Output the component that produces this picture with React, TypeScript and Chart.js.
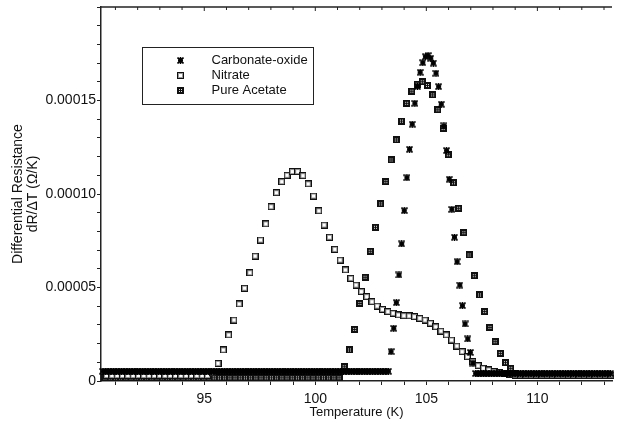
import React, { useEffect, useRef } from 'react';
import { Chart, registerables } from 'chart.js';

Chart.register(...registerables);

// ---- data (values in µΩ/K, i.e. ×1e-6) ----
const seriesNames = ['Carbonate-oxide', 'Nitrate', 'Pure Acetate'];
const xTickLabels = [95, 100, 105, 110];
const yTickLabels = ['0', '0.00005', '0.00010', '0.00015'];

// Carbonate-oxide: sampling grid start/step (K)
const carbonateStart = 90.44;
const carbonateStep = 0.119;
const carbonateValues = [
  5.2, 5.2, 5.2, 5.2, 5.2, 5.2, 5.2, 5.2, 5.2, 5.2, 5.2, 5.2, 5.2, 5.2, 5.2, 5.2, 5.2, 5.2, 5.2, 5.2,
  5.2, 5.2, 5.2, 5.2, 5.2, 5.2, 5.2, 5.2, 5.2, 5.2, 5.2, 5.2, 5.2, 5.2, 5.2, 5.2, 5.2, 5.2, 5.2, 5.2,
  5.2, 5.2, 5.2, 5.2, 5.2, 5.2, 5.2, 5.2, 5.2, 5.2, 5.2, 5.2, 5.2, 5.2, 5.2, 5.2, 5.2, 5.2, 5.2, 5.2,
  5.2, 5.2, 5.2, 5.2, 5.2, 5.2, 5.2, 5.2, 5.2, 5.2, 5.2, 5.2, 5.2, 5.2, 5.2, 5.2, 5.2, 5.2, 5.2, 5.2,
  5.2, 5.2, 5.2, 5.2, 5.2, 5.2, 5.2, 5.2, 5.2, 5.2, 5.2, 5.2, 5.2, 5.2, 5.2, 5.2, 5.2, 5.2, 5.2, 5.2,
  5.2, 5.2, 5.2, 5.2, 5.2, 5.2, 5.2, 5.2, 5.2,
  15.7, 28.2, 41.9, 56.7, 73.3, 91.1, 108.7, 123.9, 137.3, 148.5, 157.4, 165.1, 170.2, 173.4, 174.0, 172.6,
  170.0, 164.6, 157.4, 148.0, 136.4, 123.2, 107.9, 91.8, 76.9, 63.8, 51.3, 40.3, 30.5, 22.5, 15.3, 9.5,
  4.0, 4.0, 4.0, 4.0, 4.0, 4.0, 4.0, 4.0, 4.0, 4.0, 4.0, 4.0, 4.0, 4.0, 4.0, 4.0, 4.0, 4.0, 4.0, 4.0,
  4.0, 4.0, 4.0, 4.0, 4.0, 4.0, 4.0, 4.0, 4.0, 4.0, 4.0, 4.0, 4.0, 4.0, 4.0, 4.0, 4.0, 4.0, 4.0, 4.0,
  4.0, 4.0, 4.0, 4.0, 4.0, 4.0, 4.0, 4.0, 4.0, 4.0, 4.0, 4.0,
];

// Nitrate
const nitrateStart = 90.6;
const nitrateStep = 0.239;
const nitrateValues = [
  3.0, 3.0, 3.0, 3.0, 3.0, 3.0, 3.0, 3.0, 3.0, 3.0, 3.0, 3.0, 3.0, 3.0, 3.0, 3.0, 3.0, 3.0, 3.0, 3.0, 4.5,
  9.4, 16.6, 24.6, 32.6, 41.2, 49.6, 57.9, 66.8, 75.4, 84.0,
  93.2, 100.7, 106.6, 110.0, 112.0, 112.0, 109.8, 105.4, 98.9, 91.0,
  83.4, 76.9, 70.4, 64.7, 59.4, 54.9, 51.3, 47.8, 45.1, 42.4,
  40.1, 38.3, 37.1, 36.2, 35.3, 34.9, 34.8, 34.4, 33.5, 32.6,
  30.9, 29.0, 26.7, 24.6, 21.9, 18.7, 15.7, 13.0, 10.3, 8.2,
  6.8, 5.9, 5.0, 4.4, 4.1, 3.7,
  3.2, 3.2, 3.2, 3.2, 3.2, 3.2, 3.2, 3.2, 3.2, 3.2, 3.2, 3.2, 3.2, 3.2, 3.2, 3.2, 3.2, 3.2, 3.2,
];

// Pure Acetate
const acetateStart = 90.53;
const acetateStep = 0.2342;
const acetateValues = [
  1.7, 1.7, 1.7, 1.7, 1.7, 1.7, 1.7, 1.7, 1.7, 1.7, 1.7, 1.7, 1.7, 1.7, 1.7, 1.7, 1.7, 1.7, 1.7, 1.7,
  1.7, 1.7, 1.7, 1.7, 1.7, 1.7, 1.7, 1.7, 1.7, 1.7, 1.7, 1.7, 1.7, 1.7, 1.7, 1.7, 1.7, 1.7, 1.7, 1.7,
  1.7, 1.7, 1.7, 1.7, 1.7, 1.7,
  7.6, 16.6, 27.6, 41.5, 55.5, 69.4, 82.2, 94.7, 106.6, 118.2, 128.9, 139.0, 148.5, 155.0, 158.7, 160.0, 158.0,
  153.0, 145.0, 135.0, 121.0, 106.0, 92.4, 79.3, 67.4, 56.3, 46.0, 37.1, 28.7, 21.0, 14.8, 9.8, 6.8, 4.1,
  3.0, 3.0, 3.0, 3.0, 3.0, 3.0, 3.0, 3.0, 3.0, 3.0, 3.0, 3.0, 3.0, 3.0, 3.0, 3.0, 3.0, 3.0,
];

const X_MIN = 90.35;
const X_MAX = 113.36;
const Y_MAX = 0.0002;

const toPoints = (start: number, step: number, vals: number[]) =>
  vals.map((v, i) => ({ x: +(start + i * step).toFixed(3), y: v * 1e-6 }));

function makeMarker(kind: string): HTMLCanvasElement {
  const c = document.createElement('canvas');
  const ctx = c.getContext('2d')!;
  if (kind === 'star') {
    c.width = 7; c.height = 7;
    ctx.strokeStyle = '#000';
    ctx.lineWidth = 1.6;
    ctx.beginPath();
    ctx.moveTo(0.5, 0.5); ctx.lineTo(6.5, 6.5);
    ctx.moveTo(6.5, 0.5); ctx.lineTo(0.5, 6.5);
    ctx.moveTo(3.5, 0); ctx.lineTo(3.5, 7);
    ctx.moveTo(1, 3.5); ctx.lineTo(6, 3.5);
    ctx.stroke();
  } else if (kind === 'open') {
    c.width = 7; c.height = 7;
    ctx.fillStyle = '#111';
    ctx.fillRect(0, 0, 7, 7);
    ctx.fillStyle = '#9a9a9a';
    ctx.fillRect(1, 1, 5, 5);
    ctx.fillStyle = '#fff';
    ctx.fillRect(2, 2, 3, 3);
  } else {
    c.width = 7; c.height = 7;
    ctx.fillStyle = '#111';
    ctx.fillRect(0, 0, 7, 7);
    ctx.fillStyle = '#e0e0e0';
    ctx.fillRect(2, 2, 1, 1);
    ctx.fillRect(4, 2, 1, 1);
    ctx.fillRect(2, 4, 1, 1);
    ctx.fillRect(4, 4, 1, 1);
  }
  return c;
}

const FONT = '"Liberation Sans", Arial, sans-serif';

export default function App() {
  const canvasRef = useRef<HTMLCanvasElement | null>(null);

  useEffect(() => {
    if (!canvasRef.current) return;
    const markers = [makeMarker('star'), makeMarker('open'), makeMarker('checker')];

    const framePlugin = {
      id: 'frameLegend',
      afterDraw(chart: any) {
        const { ctx, chartArea, scales } = chart;
        const xs = scales.x;
        ctx.save();
        // top frame line with inward ticks
        ctx.strokeStyle = '#222';
        ctx.lineWidth = 1.5;
        ctx.beginPath();
        ctx.moveTo(chartArea.left, chartArea.top);
        ctx.lineTo(chartArea.right, chartArea.top);
        ctx.stroke();
        ctx.lineWidth = 1;
        for (const t of xs.ticks) {
          const px = xs.getPixelForValue(t.value);
          const len = t.value % 5 === 0 ? 4 : 3;
          ctx.beginPath();
          ctx.moveTo(px, chartArea.top);
          ctx.lineTo(px, chartArea.top + len);
          ctx.stroke();
        }
        // legend box
        const lx = Math.round(chartArea.left + 41) + 0.5;
        const ly = Math.round(chartArea.top + 40) + 0.5;
        ctx.strokeStyle = '#222';
        ctx.lineWidth = 1;
        ctx.strokeRect(lx, ly, 171, 57);
        ctx.font = '13px ' + FONT;
        ctx.fillStyle = '#111';
        ctx.textBaseline = 'middle';
        ctx.textAlign = 'left';
        seriesNames.forEach((name, i) => {
          const cy = ly + 13 + i * 15;
          const m = markers[i];
          ctx.drawImage(m, Math.round(lx + 38 - m.width / 2), Math.round(cy - m.height / 2));
          ctx.fillText(name, lx + 69, cy);
        });
        ctx.restore();
      },
    };

    const chart = new Chart(canvasRef.current, {
      type: 'scatter',
      data: {
        datasets: [
          {
            label: seriesNames[0],
            data: toPoints(carbonateStart, carbonateStep, carbonateValues),
            pointStyle: markers[0],
            pointRadius: 3.5,
            clip: false,
          },
          {
            label: seriesNames[1],
            data: toPoints(nitrateStart, nitrateStep, nitrateValues),
            pointStyle: markers[1],
            pointRadius: 3.5,
            clip: false,
          },
          {
            label: seriesNames[2],
            data: toPoints(acetateStart, acetateStep, acetateValues),
            pointStyle: markers[2],
            pointRadius: 3.5,
            clip: false,
          },
        ] as any,
      },
      options: {
        animation: false,
        responsive: true,
        maintainAspectRatio: false,
        layout: { padding: { top: 7, right: 0, left: 0, bottom: 0 } },
        plugins: { legend: { display: false }, tooltip: { enabled: false } },
        scales: {
          x: {
            type: 'linear',
            min: X_MIN,
            max: X_MAX,
            afterFit: (s: any) => {
              s.height = 50;
              s.paddingLeft = 0;
              s.paddingRight = 0;
            },
            border: { display: true, color: '#222', width: 1.5 },
            grid: { drawOnChartArea: false, drawTicks: true, tickLength: 4, tickColor: '#222', tickWidth: 1 },
            ticks: {
              stepSize: 1,
              includeBounds: false,
              autoSkip: false,
              maxRotation: 0,
              padding: 6,
              color: '#111',
              font: { family: FONT, size: 14 },
              callback: (v: any) => (xTickLabels.includes(Math.round(v * 1000) / 1000) ? String(v) : ''),
            },
            title: {
              display: true,
              text: 'Temperature (K)',
              color: '#111',
              font: { family: FONT, size: 13 },
              padding: { top: 0, bottom: 11 },
            },
          },
          y: {
            type: 'linear',
            min: 0,
            max: Y_MAX,
            afterFit: (s: any) => {
              s.width = 101;
              s.paddingTop = 0;
              s.paddingBottom = 0;
            },
            border: { display: true, color: '#222', width: 1.5 },
            grid: { drawOnChartArea: false, drawTicks: true, tickLength: 4, tickColor: '#222', tickWidth: 1 },
            ticks: {
              stepSize: 0.00001,
              autoSkip: false,
              padding: 1,
              color: '#111',
              font: { family: FONT, size: 14 },
              callback: (v: any) => {
                const k = Math.round(Number(v) / 0.00001);
                if (k % 5 !== 0) return '';
                const idx = k / 5;
                return idx < yTickLabels.length ? yTickLabels[idx] : '';
              },
            },
            title: {
              display: true,
              text: ['Differential Resistance', 'dR/\u0394T (\u03A9/K)'],
              color: '#111',
              font: { family: FONT, size: 14, lineHeight: 1.07 },
              padding: { top: 10.5, bottom: 0 },
            },
          },
        },
      } as any,
      plugins: [framePlugin],
    });
    return () => chart.destroy();
  }, []);

  return (
    <div style={{ position: 'fixed', left: 0, top: 0, width: 617, height: 431, background: '#fff' }}>
      <canvas ref={canvasRef} style={{ display: 'block' }} />
    </div>
  );
}
